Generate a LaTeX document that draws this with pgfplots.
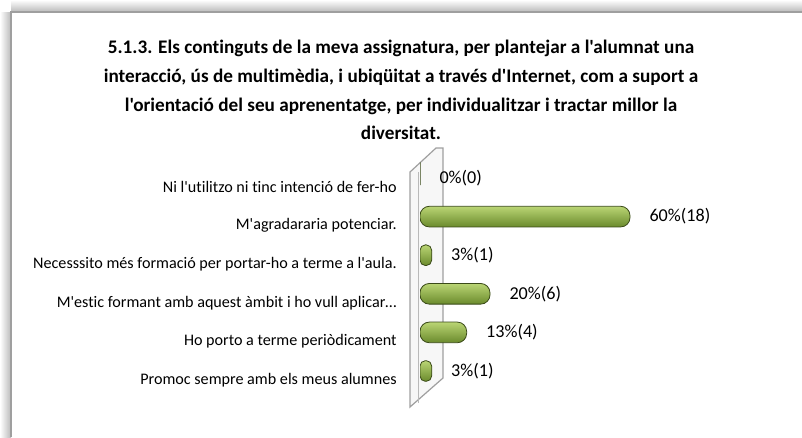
\documentclass[border=0pt]{standalone}
\usepackage{pgfplots}
\pgfplotsset{compat=1.18}
\usepackage{fontspec}
\setmainfont{Carlito}[Ligatures={TeXOff,NoCommon}]

\definecolor{bartop}{HTML}{BAD574}
\definecolor{barmid}{HTML}{A2C25A}
\definecolor{barbot}{HTML}{6A8A2C}
\definecolor{barline}{HTML}{3A4A18}

\begin{document}
\begin{tikzpicture}[x=0.75pt,y=0.75pt]
\useasboundingbox (0,0) rectangle (802,437);
% frame with shadow on the left and top
\shade[left color=white, right color=gray!55] (0,0) rectangle (11,425);
\shade[top color=white, bottom color=gray!55] (11,437) rectangle (802,425);
\draw[gray!75, line width=1pt] (11,0) -- (11,425) -- (802,425);

% title
\node[align=center, font=\bfseries\fontsize{14.4}{21.5}\selectfont] at (401,347)
  {5.1.3. Els continguts de la meva assignatura, per plantejar a l'alumnat una\\
   interacció, ús de multimèdia, i ubiqüitat a través d'Internet, com a suport a\\
   l'orientació del seu aprenentatge, per individualitzar i tractar millor la\\
   diversitat.};

% back wall of the 3D chart
\filldraw[fill=gray!6, draw=gray!75, line width=0.9pt]
  (410,30) -- (410,265) -- (436,289) -- (443,289) -- (443,59) -- cycle;
\draw[gray!55, line width=0.6pt] (418,34) -- (418,265);

\coordinate (O) at (420,46.7);
\begin{axis}[
    at={(O)}, anchor=south west,
    scale only axis,
    width=262.5pt, height=173.7pt,
    xbar, bar width=15.5pt, bar shift=0pt,
    xmin=0, xmax=100,
    ymin=-0.5, ymax=5.5,
    y dir=reverse,
    axis line style={draw=none},
    major tick length=0pt,
    xtick=\empty,
    ytick={0,...,5},
    yticklabels={Ni l'utilitzo ni tinc intenció de fer-ho,
                 M'agradararia potenciar.,
                 Necesssito més formació per portar-ho a terme a l'aula.,
                 M'estic formant amb aquest àmbit i ho vull aplicar…,
                 Ho porto a terme periòdicament,
                 Promoc sempre amb els meus alumnes},
    yticklabel style={font=\fontsize{12.1}{14}\selectfont, xshift=-14pt, yshift=-6.75pt},
    nodes near coords,
    point meta=explicit symbolic,
    nodes near coords style={font=\fontsize{13.6}{15}\selectfont, anchor=west, xshift=11pt},
    every axis plot/.append style={draw=barline, line width=0.6pt,
        top color=bartop, middle color=barmid, bottom color=barbot},
    long/.style={rounded corners=7pt},
    short/.style={rounded corners=4pt},
]
% one plot per bar, so that each bar gets its own shading
\addplot[short] coordinates {(0,0)     [0\%(0)]};
\addplot[long]  coordinates {(60,1)    [60\%(18)]};
\addplot[short] coordinates {(3.33,2)  [3\%(1)]};
\addplot[long]  coordinates {(20,3)    [20\%(6)]};
\addplot[long]  coordinates {(13.33,4) [13\%(4)]};
\addplot[short] coordinates {(3.33,5)  [3\%(1)]};
\end{axis}
\end{tikzpicture}
\end{document}
